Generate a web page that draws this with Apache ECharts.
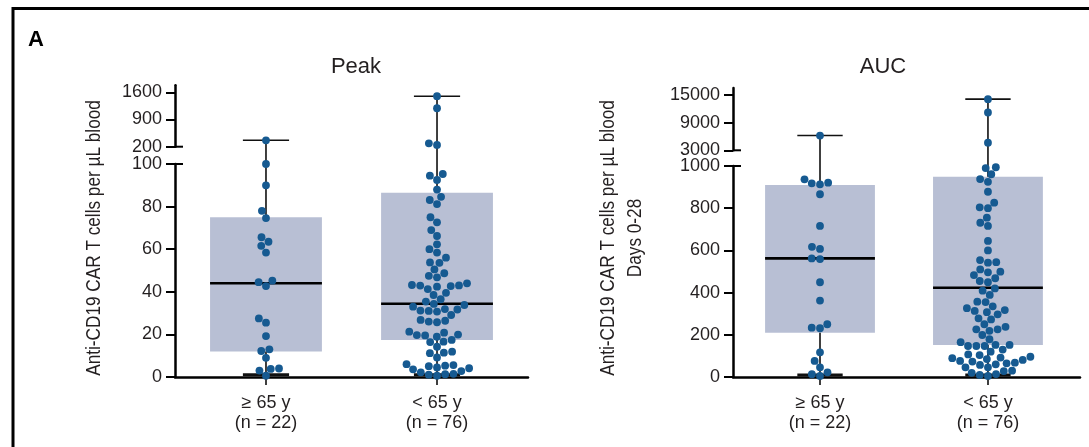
<!DOCTYPE html>
<html>
<head>
<meta charset="utf-8">
<script src="https://cdn.jsdelivr.net/npm/echarts@6/dist/echarts.min.js"></script>
<style>
  html, body { margin: 0; padding: 0; background: #fff; }
  #chart { width: 1089px; height: 447px; }
</style>
</head>
<body>
<div id="chart"></div>
<script>
// ---- data ----
const categories = ['≥ 65 y', '< 65 y'];
const groupSizes = ['(n = 22)', '(n = 76)'];

// Peak anti-CD19 CAR T cells per µL blood
const peakOlder = [365, 100, 90, 78, 74.6, 65.6, 63.5, 61.6, 58.4, 45.2, 44.5, 42.7,
  27.5, 25.5, 19.2, 13, 12.2, 9, 4, 3.8, 3, 0.6];
const peakYounger = [1500, 1190, 287, 245, 95.3, 94.5, 92.5, 88, 84.6, 83.1, 81.2, 75,
  72.6, 69, 66.2, 62.3, 60, 58.4, 56, 53.8, 53.6, 50.5, 48.7, 47.5, 46.8, 44, 43.2, 42.9,
  41.3, 42.4, 42.7, 43.0, 39.5, 38.5, 36.5, 35.4, 34.3, 33.8, 31.9, 31, 30.7, 31.2, 31.7,
  33, 29.1, 26.8, 26, 25.7, 26.4, 20.8, 19.7, 18.9, 19.9, 19.5, 21.3, 16.6, 17.4, 16.4,
  14.2, 11.4, 9.2, 11.2, 11.9, 6, 5.3, 5.1, 5.6, 4.5, 3.6, 2.2, 1.3, 0.6, 1.1, 1.5, 2.8, 4.1];

// AUC, days 0-28
const aucOlder = [6200, 937, 921, 918, 913, 866, 716, 617, 607, 562, 559, 449, 362,
  250, 234, 231, 117, 76, 46, 22, 13, 5];
const aucYounger = [14100, 11200, 4650, 994, 990, 961, 938, 925, 878, 826, 804, 800,
  755, 731, 716, 645, 600, 554, 544, 542, 510, 499, 496, 483, 468, 455, 449, 420, 409,
  389, 357, 355, 335, 326, 317, 313, 307, 297, 278, 273, 250, 238, 226, 226, 219, 199,
  179, 165, 152, 152, 147, 147, 147, 130, 120, 107, 104, 96, 92, 89, 85, 81, 76, 73, 68,
  65, 60, 57, 46, 46, 30, 28, 20, 14, 10, 5];

// box summaries: [min, Q1, median, Q3, max]
const peakBoxStats = [[0.6, 12, 44, 75, 365], [0.6, 17.4, 34.4, 86.5, 1500]];
const aucBoxStats = [[5, 210, 562, 910, 6200], [5, 152, 423, 949, 14100]];

// axis ticks (lower and upper segment of each broken axis)
const peakLowerTicks = [0, 20, 40, 60, 80, 100];
const peakUpperTicks = [200, 900, 1600];
const aucLowerTicks = [0, 200, 400, 600, 800, 1000];
const aucUpperTicks = [3000, 9000, 15000];

// ---- styling / layout ----
const FONT = 'Liberation Sans, Arial, sans-serif';
const INK = '#231f20';
const BOX_FILL = '#b8bfd4';
const DOT = '#165a91';
const DOT_R = 3.9;
const DOT_GAP = 8.3;
const BOX_HALF = 0.327;
const CAP_HALF = 0.135;

const panels = [
  {
    title: 'Peak', titleX: 356,
    values: [peakOlder, peakYounger], box: peakBoxStats,
    lowerTicks: peakLowerTicks, upperTicks: peakUpperTicks,
    upperMaxExt: 1780,
    left: 175, width: 353, xMin: 0.468, xMax: 2.532,
    upperTop: 85.3, upperH: 61.4, lowerTop: 164, lowerH: 213,
    yTitle: 'Anti-CD19 CAR T cells per µL blood', yTitleX: 94
  },
  {
    title: 'AUC', titleX: 883,
    values: [aucOlder, aucYounger], box: aucBoxStats,
    lowerTicks: aucLowerTicks, upperTicks: aucUpperTicks,
    upperMaxExt: 16500,
    left: 733, width: 347, xMin: 0.482, xMax: 2.548,
    upperTop: 88.1, upperH: 62.2, lowerTop: 166, lowerH: 211,
    yTitle: 'Anti-CD19 CAR T cells per µL blood\nDays 0-28', yTitleX: 622
  }
];

const chart = echarts.init(document.getElementById('chart'), null, { renderer: 'canvas' });

const grids = [], xAxes = [], yAxes = [], baseSeries = [];

const axisLine = { show: true, onZero: false, lineStyle: { color: '#000', width: 2.5 } };
const tickLabel = { color: INK, fontSize: 18, fontFamily: FONT, margin: 13, formatter: v => String(v) };

panels.forEach((p, pi) => {
  const gU = pi * 2, gL = pi * 2 + 1;
  const lowerMax = p.lowerTicks[p.lowerTicks.length - 1];
  const upperMin = p.upperTicks[0];
  const gap = p.lowerTop - (p.upperTop + p.upperH);
  p.gU = gU; p.gL = gL; p.lowerMax = lowerMax; p.upperMin = upperMin;

  grids.push({ left: p.left, top: p.upperTop, width: p.width, height: p.upperH });
  grids.push({ left: p.left, top: p.lowerTop, width: p.width, height: p.lowerH });

  xAxes.push({ gridIndex: gU, type: 'value', min: p.xMin, max: p.xMax, show: false });
  xAxes.push({
    gridIndex: gL, type: 'value', min: p.xMin, max: p.xMax,
    axisLine: axisLine,
    axisTick: { show: true, customValues: [1, 2], length: 8, lineStyle: { color: '#000', width: 1.5 } },
    axisLabel: {
      customValues: [1, 2], color: INK, fontSize: 18, fontFamily: FONT, lineHeight: 20, margin: 16,
      formatter: v => categories[Math.round(v) - 1] + '\n' + groupSizes[Math.round(v) - 1]
    },
    splitLine: { show: false }
  });

  yAxes.push({
    gridIndex: gU, type: 'value', min: upperMin, max: p.upperMaxExt,
    axisLine: axisLine,
    axisTick: { show: true, customValues: p.upperTicks, length: 9, lineStyle: { color: '#000', width: 2 } },
    axisLabel: Object.assign({ customValues: p.upperTicks }, tickLabel),
    splitLine: { show: false }
  });
  yAxes.push({
    gridIndex: gL, type: 'value', min: 0, max: lowerMax, interval: p.lowerTicks[1] - p.lowerTicks[0],
    axisLine: axisLine,
    axisTick: { show: true, length: 9, lineStyle: { color: '#000', width: 2 } },
    axisLabel: tickLabel,
    splitLine: { show: false }
  });

  // boxes, lower whiskers and the part of the upper whisker below the break
  baseSeries.push({
    type: 'custom', xAxisIndex: gL, yAxisIndex: gL, clip: false, z: 2,
    data: p.box.map((b, i) => [i + 1].concat(b)),
    renderItem: (params, api) => {
      const cat = api.value(0), mn = api.value(1), q1 = api.value(2), md = api.value(3),
            q3 = api.value(4), mx = api.value(5);
      const a = api.coord([cat - BOX_HALF, q3]), b = api.coord([cat + BOX_HALF, q1]);
      const m1 = api.coord([cat - BOX_HALF, md]), m2 = api.coord([cat + BOX_HALF, md]);
      const c3 = api.coord([cat, q3]), c1 = api.coord([cat, q1]);
      const top = api.coord([cat, Math.min(mx, lowerMax)]);
      const lo = api.coord([cat, mn]);
      const lo1 = api.coord([cat - CAP_HALF, mn]), lo2 = api.coord([cat + CAP_HALF, mn]);
      const ln = { stroke: '#111', lineWidth: 1.6 };
      const children = [
        { type: 'rect', shape: { x: a[0], y: a[1], width: b[0] - a[0], height: b[1] - a[1] }, style: { fill: BOX_FILL } },
        { type: 'line', shape: { x1: c3[0], y1: c3[1], x2: top[0], y2: top[1] }, style: ln },
        { type: 'line', shape: { x1: c1[0], y1: c1[1], x2: lo[0], y2: lo[1] }, style: ln },
        { type: 'line', shape: { x1: lo1[0], y1: lo1[1] - 1, x2: lo2[0], y2: lo2[1] - 1 }, style: { stroke: '#111', lineWidth: 3 } },
        { type: 'line', shape: { x1: m1[0], y1: m1[1], x2: m2[0], y2: m2[1] }, style: { stroke: '#000', lineWidth: 2.6 } }
      ];
      if (mx <= lowerMax) {
        const t1 = api.coord([cat - CAP_HALF, mx]), t2 = api.coord([cat + CAP_HALF, mx]);
        children.push({ type: 'line', shape: { x1: t1[0], y1: t1[1], x2: t2[0], y2: t2[1] }, style: ln });
      }
      return { type: 'group', children };
    }
  });

  // upper whisker above the break, bridging the gap, with its cap
  baseSeries.push({
    type: 'custom', xAxisIndex: gU, yAxisIndex: gU, clip: false, z: 2,
    data: p.box.map((b, i) => [i + 1, b[4]]),
    renderItem: (params, api) => {
      const cat = api.value(0), mx = api.value(1);
      if (mx <= upperMin) return null;
      const t = api.coord([cat, mx]), base = api.coord([cat, upperMin]);
      const t1 = api.coord([cat - CAP_HALF, mx]), t2 = api.coord([cat + CAP_HALF, mx]);
      const ln = { stroke: '#111', lineWidth: 1.6 };
      return {
        type: 'group', children: [
          { type: 'line', shape: { x1: t[0], y1: t[1], x2: base[0], y2: base[1] + gap }, style: ln },
          { type: 'line', shape: { x1: t1[0], y1: t1[1], x2: t2[0], y2: t2[1] }, style: ln }
        ]
      };
    }
  });

  // inner half of the axis-break marks
  [[gU, upperMin], [gL, lowerMax]].forEach(([g, v]) => {
    baseSeries.push({
      type: 'custom', xAxisIndex: g, yAxisIndex: g, clip: false, z: 3,
      data: [[p.xMin, v]],
      renderItem: (params, api) => {
        const q = api.coord([api.value(0), api.value(1)]);
        return { type: 'line', shape: { x1: q[0], y1: q[1], x2: q[0] + 8, y2: q[1] }, style: { stroke: '#000', lineWidth: 2 } };
      }
    });
  });
});

const graphics = [
  { type: 'polyline', shape: { points: [[13, 460], [13, 8.5], [1100, 8.5]] }, style: { stroke: '#000', lineWidth: 3, fill: null } },
  { type: 'text', x: 28, y: 40, style: { text: 'A', font: 'bold 22px ' + FONT, fill: '#000', verticalAlign: 'middle' } }
];
panels.forEach(p => {
  graphics.push({ type: 'text', x: p.titleX, y: 67, style: { text: p.title, font: '22px ' + FONT, fill: INK, align: 'center', verticalAlign: 'middle' } });
  // condensed axis title: horizontally squeezed along the reading direction
  graphics.push({
    type: 'text', x: p.yTitleX, y: 238, rotation: Math.PI / 2, scaleX: 0.86,
    style: { text: p.yTitle, font: '20px ' + FONT, fill: INK, align: 'center', verticalAlign: 'middle', lineHeight: 27 }
  });
});

const base = {
  animation: false,
  backgroundColor: '#fff',
  grid: grids, xAxis: xAxes, yAxis: yAxes,
  graphic: graphics,
  series: baseSeries
};
chart.setOption(base);

// beeswarm offsets (px) from pixel y positions
function swarm(ys, d) {
  const order = ys.map((y, i) => i).sort((a, b) => ys[b] - ys[a]);
  const placed = [];
  const out = new Array(ys.length).fill(0);
  order.forEach(i => {
    const y = ys[i];
    const near = placed.filter(q => Math.abs(q.y - y) < d);
    const cands = [0];
    near.forEach(q => {
      const dx = Math.sqrt(d * d - (q.y - y) * (q.y - y));
      cands.push(q.x + dx, q.x - dx);
    });
    cands.sort((a, b) => Math.abs(a) - Math.abs(b) || a - b);
    let x = 0;
    for (const c of cands) {
      if (near.every(q => (q.x - c) * (q.x - c) + (q.y - y) * (q.y - y) >= d * d - 1e-6)) { x = c; break; }
    }
    placed.push({ x, y });
    out[i] = x;
  });
  return out;
}

const dotSeries = [];
panels.forEach(p => {
  [[p.gL, v => v <= p.lowerMax], [p.gU, v => v > p.lowerMax]].forEach(([g, keep]) => {
    const data = [];
    p.values.forEach((vals, ci) => {
      const cat = ci + 1;
      const sel = vals.filter(keep);
      const ys = sel.map(v => chart.convertToPixel({ gridIndex: g }, [cat, v])[1]);
      const offs = swarm(ys, DOT_GAP);
      sel.forEach((v, k) => data.push([cat, v, offs[k]]));
    });
    dotSeries.push({
      type: 'custom', xAxisIndex: g, yAxisIndex: g, clip: false, z: 5,
      data,
      renderItem: (params, api) => {
        const q = api.coord([api.value(0), api.value(1)]);
        return { type: 'circle', shape: { cx: q[0] + api.value(2), cy: q[1], r: DOT_R }, style: { fill: DOT } };
      }
    });
  });
});

chart.setOption({ series: baseSeries.concat(dotSeries) });
</script>
</body>
</html>
